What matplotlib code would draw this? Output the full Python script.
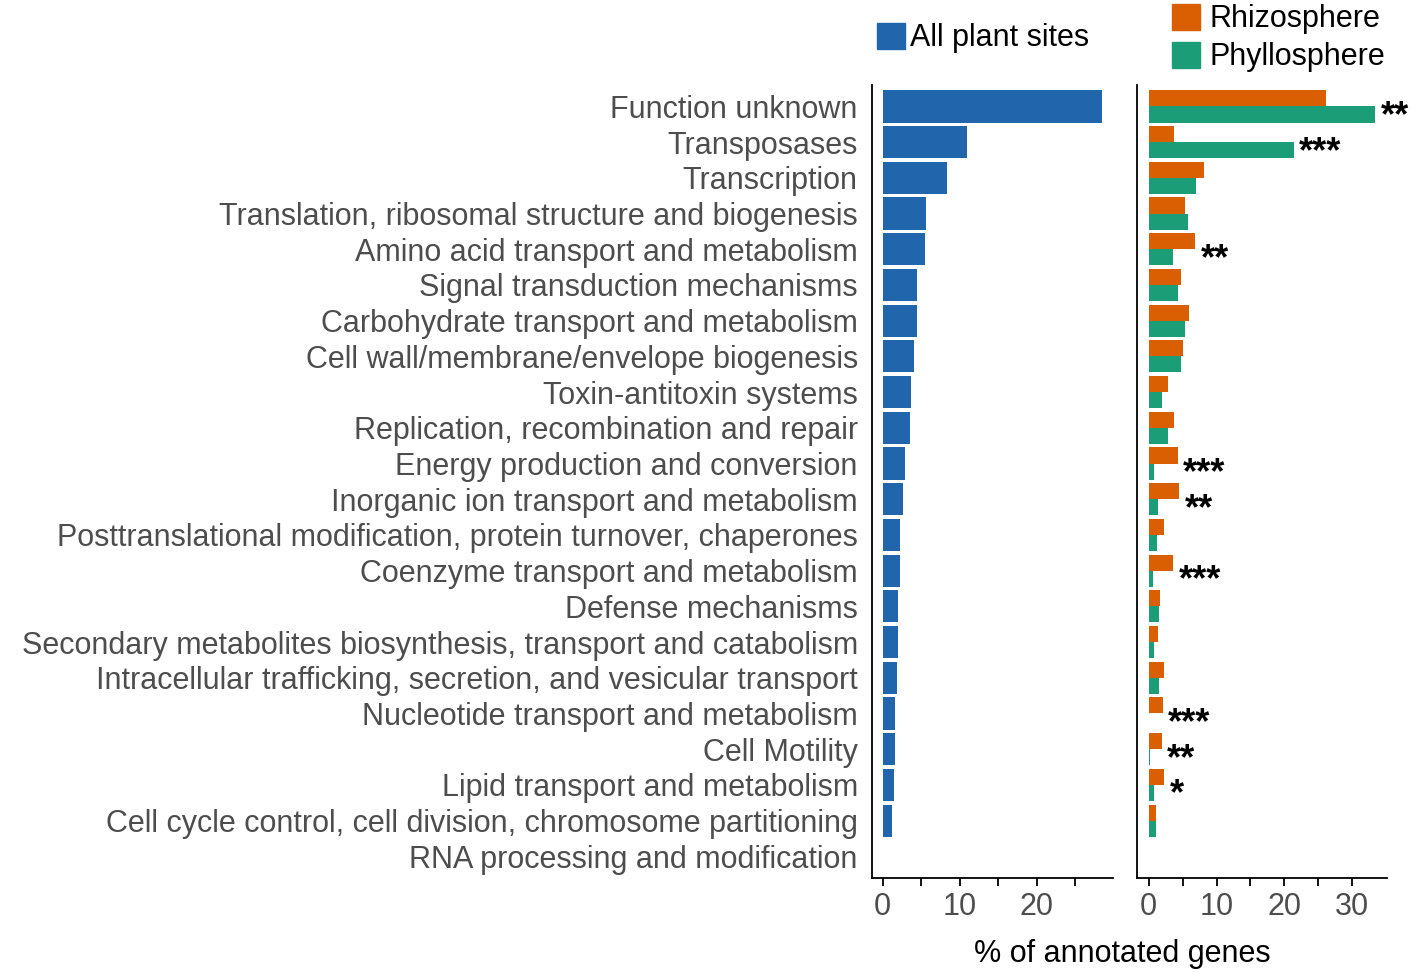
import numpy as np
import matplotlib
matplotlib.use("Agg")
from matplotlib import pyplot as plt
from matplotlib.patches import Patch

plt.rcParams['font.family'] = ['Liberation Sans', 'DejaVu Sans']

# COG categories, top to bottom
categories = [
    "Function unknown",
    "Transposases",
    "Transcription",
    "Translation, ribosomal structure and biogenesis",
    "Amino acid transport and metabolism",
    "Signal transduction mechanisms",
    "Carbohydrate transport and metabolism",
    "Cell wall/membrane/envelope biogenesis",
    "Toxin-antitoxin systems",
    "Replication, recombination and repair",
    "Energy production and conversion",
    "Inorganic ion transport and metabolism",
    "Posttranslational modification, protein turnover, chaperones",
    "Coenzyme transport and metabolism",
    "Defense mechanisms",
    "Secondary metabolites biosynthesis, transport and catabolism",
    "Intracellular trafficking, secretion, and vesicular transport",
    "Nucleotide transport and metabolism",
    "Cell Motility",
    "Lipid transport and metabolism",
    "Cell cycle control, cell division, chromosome partitioning",
    "RNA processing and modification",
]

all_sites = [28.5, 11.0, 8.4, 5.6, 5.45, 4.5, 4.4, 4.0, 3.7, 3.55, 2.9,
             2.65, 2.3, 2.2, 2.03, 2.0, 1.87, 1.6, 1.55, 1.52, 1.22, 0.05]
rhizosphere = [26.2, 3.8, 8.1, 5.4, 6.9, 4.7, 6.0, 5.0, 2.8, 3.8, 4.3,
               4.5, 2.25, 3.6, 1.75, 1.45, 2.25, 2.1, 1.95, 2.3, 1.05, 0.1]
phyllosphere = [33.4, 21.4, 7.0, 5.8, 3.6, 4.4, 5.3, 4.7, 1.9, 2.85, 0.8,
                1.4, 1.2, 0.6, 1.6, 0.8, 1.6, 0.1, 0.25, 0.85, 1.05, 0.02]
signif = ["**", "***", "", "", "**", "", "", "", "", "", "***",
          "**", "", "***", "", "", "", "***", "**", "*", "", ""]

blue = "#2166AC"
orange = "#D95F02"
green = "#1B9E77"
grey = "#4D4D4D"
fs = 22

fig = plt.figure(figsize=(14.17, 9.76), dpi=100)
ax1 = fig.add_axes([0.6152, 0.1007, 0.1703, 0.8122])
ax2 = fig.add_axes([0.8026, 0.1007, 0.1760, 0.8122])

y = np.arange(len(categories))

# left panel: all plant sites
ax1.barh(y, all_sites, height=0.9, color=blue)
ax1.set_xlim(-1.43, 29.9)
ax1.set_ylim(len(categories) - 0.4, -0.6)
ax1.set_yticks(y)
ax1.set_yticklabels(categories, fontsize=fs, color=grey)
ax1.set_xticks([0, 10, 20])
ax1.set_xticks([5, 15, 25], minor=True)

# right panel: rhizosphere vs phyllosphere
ax2.barh(y - 0.225, rhizosphere, height=0.45, color=orange)
ax2.barh(y + 0.225, phyllosphere, height=0.45, color=green)
ax2.set_xlim(-1.67, 35.07)
ax2.set_ylim(len(categories) - 0.4, -0.6)
ax2.set_yticks([])
ax2.set_xticks([0, 10, 20, 30])
ax2.set_xticks([5, 15, 25], minor=True)

for i, s in enumerate(signif):
    if s:
        xm = max(rhizosphere[i], phyllosphere[i])
        ax2.text(xm + 0.8, i + 0.55, s, fontsize=26, fontweight='bold',
                 ha='left', va='baseline', color='black')

for ax in (ax1, ax2):
    for side in ("top", "right"):
        ax.spines[side].set_visible(False)
    for side in ("left", "bottom"):
        ax.spines[side].set_linewidth(1.3)
    ax.tick_params(axis='x', which='both', length=6, width=1.3,
                   labelsize=fs, labelcolor=grey, pad=4)
    ax.tick_params(axis='y', length=0, pad=10)

fig.text(1122 / 1417, 1 - 954 / 976, "% of annotated genes", fontsize=fs,
         ha='center', va='center')

fig.legend(handles=[Patch(color=blue, label="All plant sites")],
           loc='center left', bbox_to_anchor=(877 / 1417, 1 - 38 / 976),
           frameon=False, fontsize=fs, handlelength=0.92, handleheight=0.92,
           handletextpad=0.15, borderpad=0, borderaxespad=0)
fig.legend(handles=[Patch(color=orange, label="Rhizosphere"),
                    Patch(color=green, label="Phyllosphere")],
           loc='center left', bbox_to_anchor=(1172 / 1417, 1 - 38 / 976),
           frameon=False, fontsize=fs, handlelength=0.92, handleheight=0.92,
           handletextpad=0.3, labelspacing=0.25, borderpad=0, borderaxespad=0)

fig.savefig("out.png", dpi=100)
